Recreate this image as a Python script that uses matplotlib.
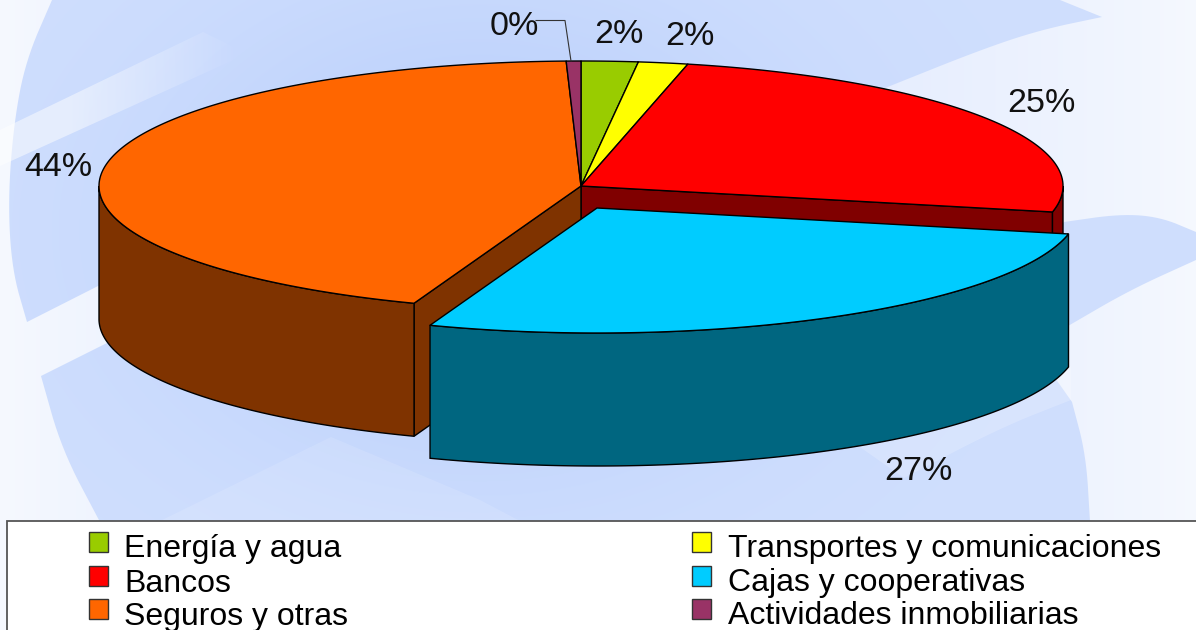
import numpy as np
import matplotlib
matplotlib.use("Agg")
import matplotlib.pyplot as plt
from matplotlib.patches import Polygon, Rectangle, PathPatch
from matplotlib.path import Path

plt.rcParams["font.family"] = ["Liberation Sans", "DejaVu Sans"]

# pie data, clockwise from twelve o'clock
categories = ["Energía y agua", "Transportes y comunicaciones", "Bancos",
              "Cajas y cooperativas", "Seguros y otras", "Actividades inmobiliarias"]
values = [1.9, 1.66, 24.77, 27.3, 43.88, 0.49]
top_colors = ["#99CC00", "#FFFF00", "#FF0000", "#00CCFF", "#FF6600", "#993366"]
side_colors = ["#4C6600", "#808000", "#800000", "#006680", "#7F3300", "#4C1A33"]
exploded = [False, False, False, True, False, False]

# label anchors in pixels
label_pos = [(619, 43), (690, 45), (1041, 112), (918, 480), (58, 176), (514, 35)]
legend_pos = [(89, 542), (692, 542), (89, 576), (692, 576), (89, 609), (692, 609)]

# pie geometry in pixels
cx, cy = 581, 186
rx, ry = 482, 125
depth = 133
off_x, off_y = 16, 22

fig = plt.figure(figsize=(11.96, 6.30), dpi=100)
ax = fig.add_axes([0, 0, 1, 1])
ax.set_xlim(0, 1196)
ax.set_ylim(630, 0)
ax.axis("off")


def hex_rgb(c):
    return np.array(matplotlib.colors.to_rgb(c))


def lerp_img(c0, c1, t):
    return hex_rgb(c0)[None, None, :] * (1 - t[..., None]) + hex_rgb(c1)[None, None, :] * t[..., None]


def smooth(pts, n=3):
    # corner cutting, keeps both end points
    pts = np.array(pts, dtype=float)
    for _ in range(n):
        q = 0.75 * pts[:-1] + 0.25 * pts[1:]
        r = 0.25 * pts[:-1] + 0.75 * pts[1:]
        mid_pts = np.empty((2 * len(q), 2))
        mid_pts[0::2], mid_pts[1::2] = q, r
        pts = np.vstack([pts[0], mid_pts, pts[-1]])
    return pts


# background: pale gradient plus the swirl shapes on top of it
xx, yy = np.meshgrid(np.arange(1196) + 0.5, np.arange(630) + 0.5)
t_light = np.clip(1 - np.abs(xx - 600) / 600, 0, 1) ** 0.8
light = lerp_img("#F6F9FF", "#DCE6FE", t_light)
ax.imshow(light, extent=(0, 1196, 630, 0), zorder=0, aspect="auto")

t_mid = np.exp(-(((xx - 480) / 320) ** 2 + ((yy - 230) / 240) ** 2))
mid = lerp_img("#D0DFFE", "#B8CEFB", t_mid)
swirl = [
    np.vstack([
        smooth([(52, 0), (26, 60), (14, 122), (8, 200), (12, 270), (27, 322)]),
        [(100, 285), (107, 343)],
        smooth([(41, 376), (62, 450), (100, 522)]),
        smooth([(1090, 522), (1086, 455), (1072, 402)]),
        [(1000, 300)],
        smooth([(885, 88), (980, 50), (1040, 30), (1102, 17)]),
        [(1060, 0)],
    ]),
    np.vstack([
        smooth([(1064, 222), (1120, 214), (1160, 217), (1196, 232)]),
        smooth([(1196, 260), (1130, 290), (1068, 326)]),
        [(1000, 300)],
    ]),
]
for pts in swirl:
    clip = PathPatch(Path(np.vstack([pts, pts[0]]), closed=True), transform=ax.transData, fc="none", ec="none")
    ax.add_patch(clip)
    im = ax.imshow(mid, extent=(0, 1196, 630, 0), zorder=0.5, aspect="auto")
    im.set_clip_path(clip)

# lighter streak top left, fades out towards the middle
fade = np.zeros((630, 1196, 4))
fade[..., :3] = 1
fade[..., 3] = 0.5 * np.clip((240 - xx) / 170, 0, 1)
clip = Polygon([(0, 130), (203, 32), (240, 50), (240, 57), (0, 166)], closed=True,
               transform=ax.transData, fc="none", ec="none")
ax.add_patch(clip)
im = ax.imshow(fade, extent=(0, 1196, 630, 0), zorder=0.6, aspect="auto")
im.set_clip_path(clip)

# faint bands low in the picture
streaks = [
    ([(331, 437), (480, 500), (520, 521), (160, 521)], 0.12),
    (np.vstack([smooth([(1071, 400), (1000, 428), (904, 478)]), [(850, 440), (1071, 366)]]), 0.2),
]
for pts, alpha in streaks:
    ax.add_patch(Polygon(pts, closed=True, fc="white", ec="none", alpha=alpha, zorder=0.6))
ax.set_xlim(0, 1196)
ax.set_ylim(630, 0)


def rim(a0, a1, dx=0, dy=0, drop=0):
    th = np.radians(np.linspace(a0, a1, 200))
    return np.column_stack([cx + dx + rx * np.sin(th), cy + dy + drop - ry * np.cos(th)])


def draw_side(a0, a1, color, dx=0, dy=0, z=2):
    # outer wall, only the part that faces the viewer
    lo, hi = max(a0, 90), min(a1, 270)
    if hi <= lo:
        return
    pts = np.vstack([rim(lo, hi, dx, dy), rim(lo, hi, dx, dy, depth)[::-1]])
    ax.add_patch(Polygon(pts, closed=True, fc=color, ec="black", lw=1.0, zorder=z))


def draw_cut(a, color, z=1.5):
    # flat face left by the pulled out slice
    p = rim(a, a)[0]
    pts = [(cx, cy), tuple(p), (p[0], p[1] + depth), (cx, cy + depth)]
    ax.add_patch(Polygon(pts, closed=True, fc=color, ec="black", lw=1.0, zorder=z))


angles = np.concatenate([[0], np.cumsum(values) * 360 / sum(values)])
for i, cat in enumerate(categories):
    a0, a1 = angles[i], angles[i + 1]
    dx, dy = (off_x, off_y) if exploded[i] else (0, 0)
    z = 5 if exploded[i] else 3
    draw_side(a0, a1, side_colors[i], dx, dy, z)
    pts = np.vstack([[cx + dx, cy + dy], rim(a0, a1, dx, dy)])
    ax.add_patch(Polygon(pts, closed=True, fc=top_colors[i], ec="black", lw=1.0, zorder=z + 0.5, joinstyle="round"))

# cut faces next to the exploded slice
draw_cut(angles[3], side_colors[2])
draw_cut(angles[4], side_colors[4])

# percentage labels
for i, (lx, ly) in enumerate(label_pos):
    ax.text(lx, ly, f"{round(values[i])}%", fontsize=24.5, color="#111111", ha="center", va="baseline", zorder=7)

# leader line of the smallest slice
ax.plot([536, 565, 571], [20.5, 20.5, 61], color="#333333", lw=0.8, zorder=6)

# legend box runs off the bottom right corner
ax.add_patch(Rectangle((7, 521), 1300, 200, fc="white", ec="#555555", lw=1.3, zorder=8))
for i, cat in enumerate(categories):
    bx, by = legend_pos[i]
    ax.add_patch(Rectangle((bx, by - 10), 19, 20, fc=top_colors[i], ec="#333333", lw=1.0, zorder=9))
    ax.text(bx + 35.5, by + 15.5, cat, fontsize=23, color="black", ha="left", va="baseline", zorder=9)

plt.savefig("out.png", dpi=100)
